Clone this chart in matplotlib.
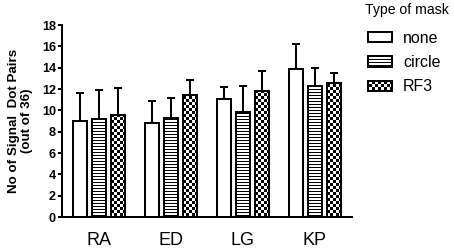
import numpy as np
import matplotlib
matplotlib.use('Agg')
import matplotlib.pyplot as plt
import matplotlib.hatch as mhatch
from matplotlib.path import Path
from matplotlib.patches import Patch

subjects = ['RA', 'ED', 'LG', 'KP']
masks = ['none', 'circle', 'RF3']
none_mean = [9.0, 8.8, 11.1, 13.9]
none_err = [2.6, 2.1, 1.1, 2.3]
circle_mean = [9.15, 9.25, 9.8, 12.3]
circle_err = [2.8, 1.95, 2.5, 1.65]
rf3_mean = [9.55, 11.45, 11.8, 12.6]
rf3_err = [2.5, 1.4, 1.9, 0.9]
yticks = list(range(0, 19, 2))

DPI = 96
CELLS = 32  # 3 px cells inside the 96 px hatch tile


class StripeHatch(mhatch.HatchPatternBase):
    # horizontal lines every 3 px, sitting on pixel centres
    def __init__(self, hatch, density):
        self.num_lines = CELLS if '-' in hatch else 0
        self.num_vertices = self.num_lines * 2

    def set_vertices_and_codes(self, vertices, codes):
        y = (np.arange(self.num_lines) * 3 + 0.5) / DPI
        vertices[0::2, 0] = 0.0
        vertices[1::2, 0] = 1.0
        vertices[0::2, 1] = y
        vertices[1::2, 1] = y
        codes[0::2] = Path.MOVETO
        codes[1::2] = Path.LINETO


class CheckerHatch(mhatch.HatchPatternBase):
    # black/white checkerboard, 3 px squares
    def __init__(self, hatch, density):
        self.n = CELLS if '*' in hatch else 0
        self.num_vertices = self.n * self.n // 2 * 5

    def set_vertices_and_codes(self, vertices, codes):
        pad = 0.5 / DPI
        cell = 3 / DPI
        sq = [Path.MOVETO, Path.LINETO, Path.LINETO, Path.LINETO, Path.CLOSEPOLY]
        k = 0
        for i in range(self.n):
            for j in range(self.n):
                if (i + j) % 2:
                    continue
                x0, y0 = j * cell + pad, i * cell + pad
                x1, y1 = (j + 1) * cell - pad, (i + 1) * cell - pad
                vertices[k:k + 5] = [(x0, y0), (x1, y0), (x1, y1), (x0, y1), (x0, y0)]
                codes[k:k + 5] = sq
                k += 5


mhatch._hatch_types[:] = [t for t in mhatch._hatch_types
                          if t not in (mhatch.HorizontalHatch, mhatch.Stars)] + [StripeHatch, CheckerHatch]

plt.rcParams['font.family'] = 'Liberation Sans'
plt.rcParams['hatch.linewidth'] = 0.75
plt.rcParams['hatch.color'] = 'black'

fig = plt.figure(figsize=(454 / DPI, 251 / DPI), dpi=DPI)
ax = fig.add_axes([62 / 454, 1 - 217 / 251, 290 / 454, 192 / 251])

x = np.arange(len(subjects))
width = 0.195
offset = 0.27
series = [(none_mean, none_err, ''), (circle_mean, circle_err, '-'), (rf3_mean, rf3_err, '*')]
for k, (mean, err, hatch) in enumerate(series):
    pos = x + (k - 1) * offset
    ax.bar(pos, mean, width, color='white', edgecolor='black', linewidth=1.5, hatch=hatch, zorder=2)
    ax.errorbar(pos, mean, yerr=[np.zeros(len(err)), err], fmt='none', ecolor='black',
                elinewidth=1.5, capsize=2.8, capthick=1.5, zorder=1)

ax.set_xlim(-0.514, 3.514)
ax.set_ylim(0, 18)
ax.set_yticks(yticks)
ax.set_xticks(x)
ax.set_xticklabels(subjects, fontsize=13.5)
ax.tick_params(axis='x', length=0, pad=11)
ax.tick_params(axis='y', length=3, width=1.5, pad=1.5, labelsize=9.5)
for lab in ax.get_yticklabels():
    lab.set_fontweight('bold')
for s in ['top', 'right']:
    ax.spines[s].set_visible(False)
for s in ['left', 'bottom']:
    ax.spines[s].set_linewidth(1.5)

ax.set_ylabel('No of Signal  Dot Pairs\n(out of 36)', fontsize=10, fontweight='bold', linespacing=1.1)
ax.yaxis.set_label_coords(-0.10, 0.5)

fig.text(365 / 454, 1 - 14 / 251, 'Type of mask', fontsize=10.5, va='baseline')
handles = [Patch(facecolor='white', edgecolor='black', linewidth=1.5, hatch=h, label=m)
           for m, h in zip(masks, ['', '-', '*'])]
ax.legend(handles=handles, loc='upper left', bbox_to_anchor=(368 / 454, 1 - 31 / 251),
          bbox_transform=fig.transFigure, frameon=False, fontsize=12, handlelength=1.5,
          handleheight=0.6, handletextpad=0.7, labelspacing=0.57, borderpad=0, borderaxespad=0)

fig.savefig('out.png', dpi=DPI)
